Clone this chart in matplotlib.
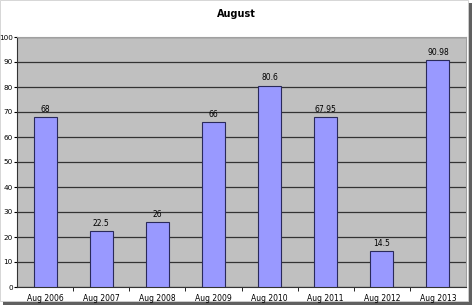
import matplotlib
matplotlib.use("Agg")
import matplotlib.pyplot as plt
from matplotlib.patches import Rectangle

categories = ["Aug 2006", "Aug 2007", "Aug 2008", "Aug 2009", "Aug 2010",
              "Aug 2011", "Aug 2012", "Aug 2013"]
values = [68, 22.5, 26, 66, 80.6, 67.95, 14.5, 90.98]
labels = ["68", "22.5", "26", "66", "80.6", "67.95", "14.5", "90.98"]

fig = plt.figure(figsize=(4.72, 3.05), dpi=100)
# drop shadow of the chart frame
fig.patches.append(Rectangle((0.006, 0.0), 0.994, 0.99, transform=fig.transFigure,
                             facecolor="#606060", edgecolor="none", zorder=-2))
fig.patches.append(Rectangle((0.0, 0.012), 0.991, 0.988, transform=fig.transFigure,
                             facecolor="white", edgecolor="#d0d0d0", lw=0.6, zorder=-1))

ax = fig.add_axes([17 / 472, 18 / 305, 449 / 472, 250 / 305])
ax.set_facecolor("#c0c0c0")
x = list(range(len(categories)))
ax.bar(x, values, width=0.41, color="#9999ff", edgecolor="#2a2a5a", linewidth=0.8, zorder=3)
for xi, v, lab in zip(x, values, labels):
    ax.text(xi, v + 1.2, lab, ha="center", va="bottom", fontsize=5.5, zorder=4)

ax.set_xlim(-0.5, len(categories) - 0.5)
ax.set_ylim(0, 100)
ax.set_yticks(range(0, 101, 10))
ax.set_xticks(x)
ax.set_xticklabels(categories)
ax.set_xticks([i + 0.5 for i in x[:-1]], minor=True)
ax.tick_params(axis="x", which="major", length=0, labelsize=5.5, pad=5)
ax.tick_params(axis="x", which="minor", length=3, direction="out")
ax.tick_params(axis="y", labelsize=5.2, length=2.5, pad=0.5)
ax.yaxis.grid(True, color="#333333", linewidth=0.9, zorder=1)
ax.set_axisbelow(True)
for side in ["top", "right"]:
    ax.spines[side].set_color("#a0a0a0")
for side in ["left", "bottom"]:
    ax.spines[side].set_color("#333333")

fig.text(0.5, 0.955, "August", ha="center", va="center", fontsize=7, fontweight="bold")

fig.savefig("out.png", dpi=100)
